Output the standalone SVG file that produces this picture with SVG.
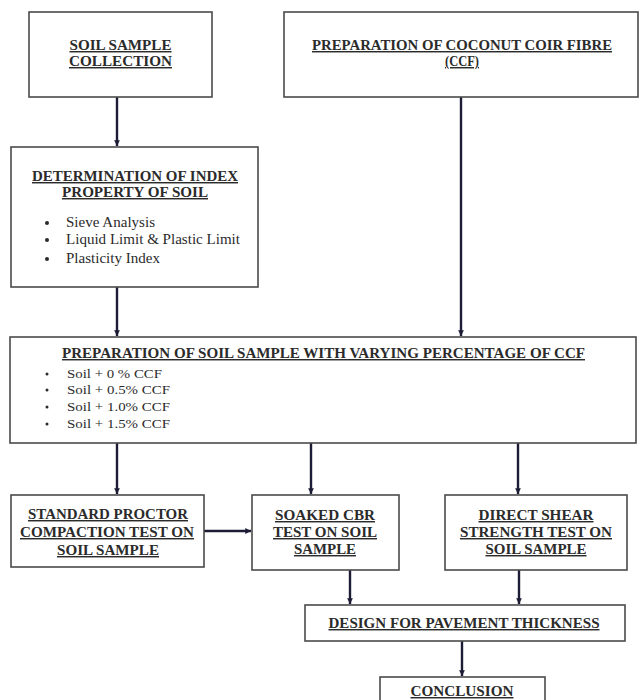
<svg xmlns="http://www.w3.org/2000/svg" width="640" height="700" viewBox="0 0 640 700">
<defs>
<marker id="ah" viewBox="0 0 8 8" refX="8" refY="4" markerWidth="2.4" markerHeight="2.4" orient="auto" markerUnits="strokeWidth">
<path d="M0,0 L8,4 L0,8 z" fill="#1c1c36"/>
</marker>
<style>
.box{fill:#ffffff;stroke:#4a4a4a;stroke-width:1.6}
.t{font-family:"Liberation Serif","Times New Roman",serif;font-weight:bold;font-size:14.5px;fill:#2b2b2b;text-anchor:middle;text-decoration:underline}
.b{font-family:"Liberation Serif","Times New Roman",serif;font-size:14px;fill:#2b2b2b}
.s{font-family:"Liberation Serif","Times New Roman",serif;font-size:13px;fill:#2b2b2b}
.c{fill:none;stroke:#1c1c36;stroke-width:2.4;marker-end:url(#ah)}
</style>
</defs>
<rect width="640" height="700" fill="#ffffff"/>

<g id="connectors">
<line class="c" x1="117" y1="97" x2="117" y2="146"/>
<line class="c" x1="461" y1="97" x2="461" y2="336"/>
<line class="c" x1="117" y1="287" x2="117" y2="336"/>
<line class="c" x1="117" y1="443" x2="117" y2="494"/>
<line class="c" x1="311" y1="443" x2="311" y2="494"/>
<line class="c" x1="518" y1="443" x2="518" y2="494"/>
<line class="c" x1="204" y1="531" x2="251" y2="531"/>
<line class="c" x1="350" y1="570" x2="350" y2="604"/>
<line class="c" x1="519" y1="570" x2="519" y2="604"/>
<line class="c" x1="462" y1="641" x2="462" y2="676"/>
</g>

<g id="soil-sample-collection">
<rect class="box" x="29" y="12" width="183" height="85"/>
<text class="t" x="120.5" y="50" textLength="102" lengthAdjust="spacingAndGlyphs">SOIL SAMPLE</text>
<text class="t" x="120.5" y="66" textLength="103" lengthAdjust="spacingAndGlyphs">COLLECTION</text>
</g>

<g id="coconut-coir-fibre">
<rect class="box" x="284" y="12" width="354" height="85"/>
<text class="t" x="462" y="50" textLength="300" lengthAdjust="spacingAndGlyphs">PREPARATION OF COCONUT COIR FIBRE</text>
<text class="t" x="462" y="66" textLength="34" lengthAdjust="spacingAndGlyphs">(CCF)</text>
</g>

<g id="index-property">
<rect class="box" x="11" y="147" width="247" height="140"/>
<text class="t" x="135" y="181" textLength="206" lengthAdjust="spacingAndGlyphs">DETERMINATION OF INDEX</text>
<text class="t" x="135" y="197" textLength="146" lengthAdjust="spacingAndGlyphs">PROPERTY OF SOIL</text>
<circle cx="47" cy="223" r="2" fill="#2b2b2b"/>
<circle cx="47" cy="240" r="2" fill="#2b2b2b"/>
<circle cx="47" cy="259" r="2" fill="#2b2b2b"/>
<text class="b" x="66" y="227" textLength="89" lengthAdjust="spacingAndGlyphs">Sieve Analysis</text>
<text class="b" x="66" y="244" textLength="174" lengthAdjust="spacingAndGlyphs">Liquid Limit &amp; Plastic Limit</text>
<text class="b" x="66" y="263" textLength="94" lengthAdjust="spacingAndGlyphs">Plasticity Index</text>
</g>

<g id="soil-sample-ccf">
<rect class="box" x="10" y="337" width="626" height="106"/>
<text class="t" x="323.5" y="358" textLength="523" lengthAdjust="spacingAndGlyphs">PREPARATION OF SOIL SAMPLE WITH VARYING PERCENTAGE OF CCF</text>
<circle cx="47" cy="374" r="1.5" fill="#2b2b2b"/>
<circle cx="47" cy="390" r="1.5" fill="#2b2b2b"/>
<circle cx="47" cy="407" r="1.5" fill="#2b2b2b"/>
<circle cx="47" cy="424" r="1.5" fill="#2b2b2b"/>
<text class="s" x="67" y="378" textLength="95" lengthAdjust="spacingAndGlyphs">Soil + 0 % CCF</text>
<text class="s" x="67" y="394" textLength="103" lengthAdjust="spacingAndGlyphs">Soil + 0.5% CCF</text>
<text class="s" x="67" y="411" textLength="103" lengthAdjust="spacingAndGlyphs">Soil + 1.0% CCF</text>
<text class="s" x="67" y="428" textLength="103" lengthAdjust="spacingAndGlyphs">Soil + 1.5% CCF</text>
</g>

<g id="standard-proctor">
<rect class="box" x="11" y="495" width="193" height="72"/>
<text class="t" x="108" y="519" textLength="160" lengthAdjust="spacingAndGlyphs">STANDARD PROCTOR</text>
<text class="t" x="107" y="537" textLength="174" lengthAdjust="spacingAndGlyphs">COMPACTION TEST ON</text>
<text class="t" x="108" y="555" textLength="102" lengthAdjust="spacingAndGlyphs">SOIL SAMPLE</text>
</g>

<g id="soaked-cbr">
<rect class="box" x="252" y="495" width="147" height="75"/>
<text class="t" x="325" y="520" textLength="100" lengthAdjust="spacingAndGlyphs">SOAKED CBR</text>
<text class="t" x="325" y="537" textLength="104" lengthAdjust="spacingAndGlyphs">TEST ON SOIL</text>
<text class="t" x="325" y="554" textLength="62" lengthAdjust="spacingAndGlyphs">SAMPLE</text>
</g>

<g id="direct-shear">
<rect class="box" x="445" y="495" width="182" height="75"/>
<text class="t" x="536" y="520" textLength="115" lengthAdjust="spacingAndGlyphs">DIRECT SHEAR</text>
<text class="t" x="536" y="537" textLength="152" lengthAdjust="spacingAndGlyphs">STRENGTH TEST ON</text>
<text class="t" x="536" y="554" textLength="101" lengthAdjust="spacingAndGlyphs">SOIL SAMPLE</text>
</g>

<g id="pavement-design">
<rect class="box" x="305" y="605" width="320" height="36"/>
<text class="t" x="464" y="628" textLength="271" lengthAdjust="spacingAndGlyphs">DESIGN FOR PAVEMENT THICKNESS</text>
</g>

<g id="conclusion">
<rect class="box" x="380" y="677" width="165" height="40"/>
<text class="t" x="462" y="696" textLength="103" lengthAdjust="spacingAndGlyphs">CONCLUSION</text>
</g>
</svg>
